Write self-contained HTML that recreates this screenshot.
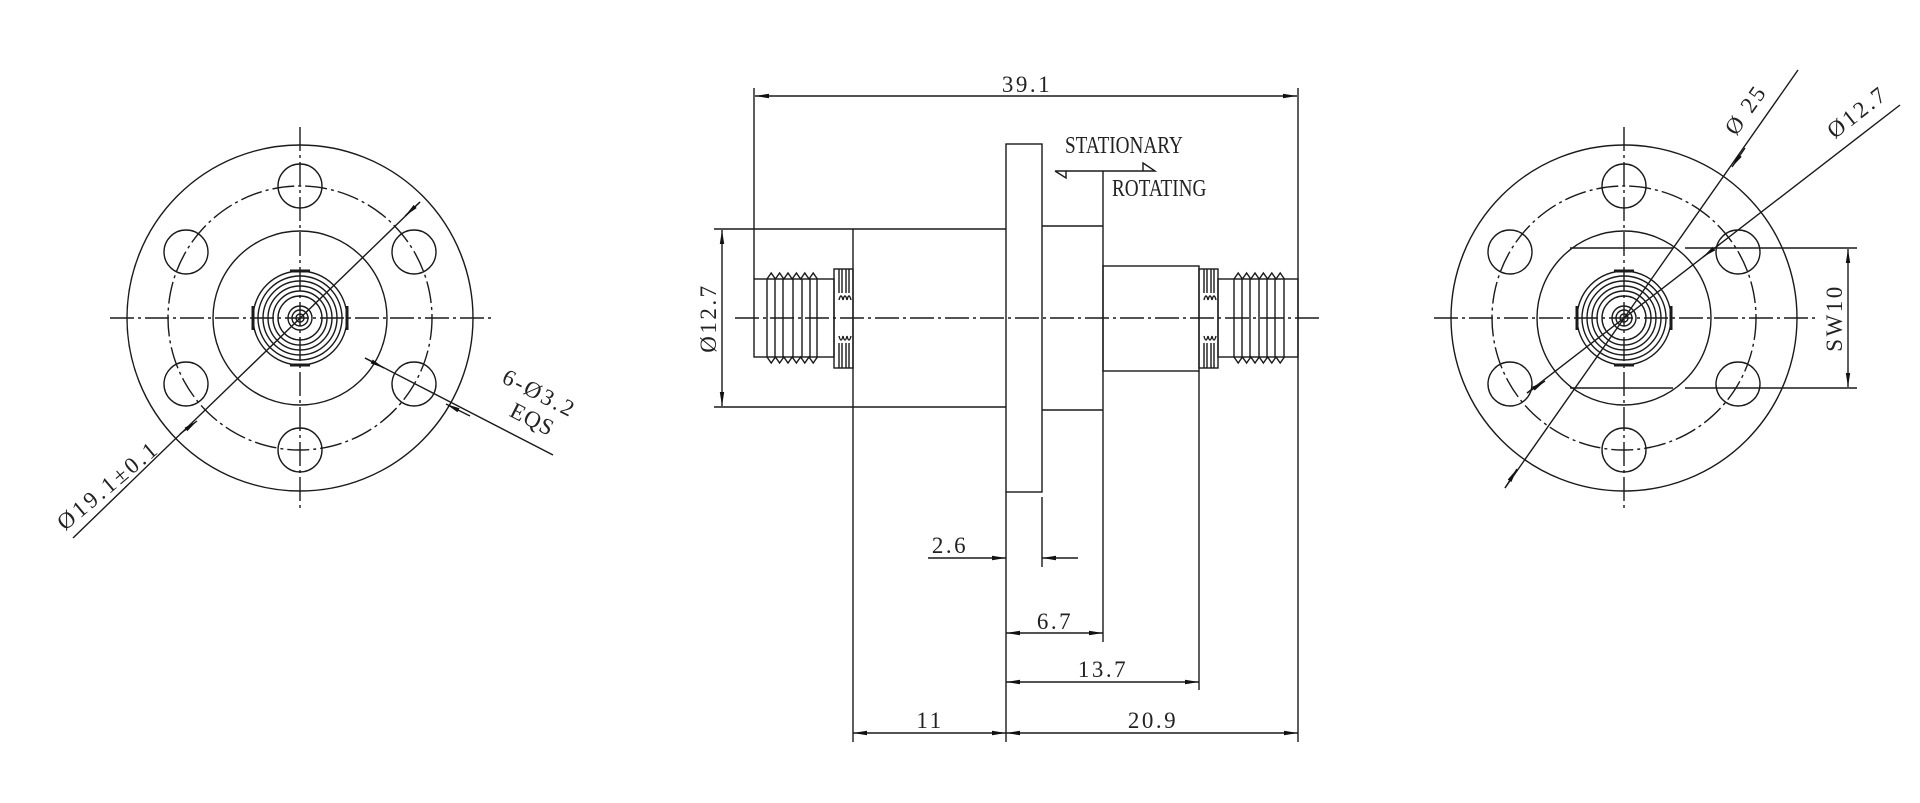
<!DOCTYPE html>
<html><head><meta charset="utf-8"><style>
html,body{margin:0;padding:0;background:#fff;}
svg{display:block;}
text{font-family:"Liberation Serif",serif;fill:#222;}
</style></head><body>
<svg width="1920" height="803" viewBox="0 0 1920 803" xmlns="http://www.w3.org/2000/svg">
<defs>
<marker id="a" viewBox="0 0 14 6" refX="14" refY="3" markerWidth="14" markerHeight="6" markerUnits="userSpaceOnUse" orient="auto-start-reverse"><path d="M0,0.8 L14,3 L0,5.2 Z" fill="#111"/></marker>
<g id="ring">
<circle r="47"/><circle r="42"/><circle r="37"/><circle r="32"/><circle r="27"/><circle r="22"/>
<circle r="12"/><circle r="8"/><circle r="4"/>
<path d="M-47,-12 V12 M47,-12 V12 M-10,-47 H10 M-10,47 H10" stroke-width="3"/>
</g>
<g id="face">
<circle r="173"/>
<circle r="132" stroke-dasharray="22 4 3 4"/>
<circle r="87"/>
<circle cx="0" cy="-132" r="22"/><circle cx="114" cy="-66" r="22"/><circle cx="114" cy="66" r="22"/>
<circle cx="0" cy="132" r="22"/><circle cx="-114" cy="66" r="22"/><circle cx="-114" cy="-66" r="22"/>
<path d="M-190,0 H192 M0,-191 V190" stroke-dasharray="24 4 3 4"/>
<use href="#ring"/>
</g>
</defs>
<g fill="none" stroke="#1a1a1a" stroke-width="1.4">
<!-- left view -->
<use href="#face" x="300" y="318"/>
<line x1="420" y1="202" x2="73" y2="538"/>
<line x1="420" y1="202" x2="405" y2="216" marker-end="url(#a)"/>
<line x1="180" y1="434" x2="197" y2="421" marker-end="url(#a)"/>
<line x1="365" y1="358" x2="553" y2="455"/>
<line x1="365" y1="358" x2="384" y2="368" marker-end="url(#a)"/>
<line x1="470" y1="416" x2="446" y2="404" marker-end="url(#a)"/>
<!-- right view -->
<use href="#face" x="1624" y="318"/>
<line x1="1798" y1="70" x2="1505" y2="488"/>
<line x1="1745" y1="148" x2="1732" y2="167" marker-end="url(#a)"/>
<line x1="1505" y1="488" x2="1517" y2="469" marker-end="url(#a)"/>
<line x1="1900" y1="105" x2="1527" y2="393"/>
<line x1="1720" y1="244" x2="1703" y2="257" marker-end="url(#a)"/>
<line x1="1527" y1="393" x2="1545" y2="381" marker-end="url(#a)"/>
<path d="M1570,248 H1673 M1685,248 H1857 M1570,388 H1673 M1685,388 H1857"/>
<line x1="1848" y1="318" x2="1848" y2="249" marker-end="url(#a)"/>
<line x1="1848" y1="318" x2="1848" y2="387" marker-end="url(#a)"/>
<!-- middle -->
<rect x="1006" y="144" width="36" height="348"/>
<path d="M714,229 H1006 M714,407 H1006 M853,229 V742 M1042,226 H1103 M1042,410 H1103 M1103,171 V642"/>
<rect x="1103" y="266" width="96" height="105"/>
<path d="M1199,371 V690 M1006,492 V742 M1042,497 V567 M754,88 V279 M1298,88 V742"/>
<!-- left thread -->
<rect x="754" y="279" width="80" height="78"/>
<path d="M767,279 l4.2,-6 l4.2,6 l4.2,-6 l4.2,6 l4.2,-6 l4.2,6 l4.2,-6 l4.2,6 l4.2,-6 l4.2,6 l4.2,-6 l4.2,6"/>
<path d="M767,357 l4.2,6 l4.2,-6 l4.2,6 l4.2,-6 l4.2,6 l4.2,-6 l4.2,6 l4.2,-6 l4.2,6 l4.2,-6 l4.2,6 l4.2,-6"/>
<path d="M767,279 V357 M775,279 V357 M783,279 V357 M793,279 V357 M802,279 V357 M810,279 V357 M817,279 V357"/>
<rect x="834" y="269" width="19" height="99"/>
<path d="M839,269 V293 M842,269 V293 M846,269 V293 M849,269 V293 M839,343 V368 M842,343 V368 M846,343 V368 M849,343 V368"/>
<path d="M839,300 q2,-8 4,0 q2,-8 4,0 q2,-8 4,0 M839,336 q2,8 4,0 q2,8 4,0 q2,8 4,0"/>
<!-- right thread -->
<rect x="1218" y="279" width="80" height="78"/>
<path d="M1234,279 l4.2,-6 l4.2,6 l4.2,-6 l4.2,6 l4.2,-6 l4.2,6 l4.2,-6 l4.2,6 l4.2,-6 l4.2,6 l4.2,-6 l4.2,6"/>
<path d="M1234,357 l4.2,6 l4.2,-6 l4.2,6 l4.2,-6 l4.2,6 l4.2,-6 l4.2,6 l4.2,-6 l4.2,6 l4.2,-6 l4.2,6 l4.2,-6"/>
<path d="M1234,279 V357 M1242,279 V357 M1250,279 V357 M1259,279 V357 M1267,279 V357 M1275,279 V357 M1284,279 V357"/>
<rect x="1199" y="269" width="19" height="99"/>
<path d="M1204,269 V293 M1207,269 V293 M1211,269 V293 M1214,269 V293 M1204,343 V368 M1207,343 V368 M1211,343 V368 M1214,343 V368"/>
<path d="M1204,300 q2,-8 4,0 q2,-8 4,0 q2,-8 4,0 M1204,336 q2,8 4,0 q2,8 4,0 q2,8 4,0"/>
<line x1="735" y1="318" x2="1322" y2="318" stroke-dasharray="24 4 3 4"/>
<!-- stationary arrow -->
<path d="M1055,171 H1155 M1055,171 L1066,178 V171 M1143,163 L1155,171 H1143 Z"/>
<!-- dims -->
<line x1="1026" y1="96" x2="755" y2="96" marker-end="url(#a)"/>
<line x1="1026" y1="96" x2="1297" y2="96" marker-end="url(#a)"/>
<line x1="722" y1="318" x2="722" y2="230" marker-end="url(#a)"/>
<line x1="722" y1="318" x2="722" y2="406" marker-end="url(#a)"/>
<line x1="928" y1="558" x2="1006" y2="558" marker-end="url(#a)"/>
<line x1="1078" y1="558" x2="1042" y2="558" marker-end="url(#a)"/>
<line x1="1054" y1="633" x2="1006" y2="633" marker-end="url(#a)"/>
<line x1="1054" y1="633" x2="1103" y2="633" marker-end="url(#a)"/>
<line x1="1102" y1="682" x2="1006" y2="682" marker-end="url(#a)"/>
<line x1="1102" y1="682" x2="1199" y2="682" marker-end="url(#a)"/>
<line x1="930" y1="733" x2="853" y2="733" marker-end="url(#a)"/>
<line x1="930" y1="733" x2="1006" y2="733" marker-end="url(#a)"/>
<line x1="1152" y1="733" x2="1006" y2="733" marker-end="url(#a)"/>
<line x1="1152" y1="733" x2="1298" y2="733" marker-end="url(#a)"/>
</g>
<g font-size="23" letter-spacing="2.5">
<text x="1027" y="92" text-anchor="middle">39.1</text>
<text x="950" y="553" text-anchor="middle">2.6</text>
<text x="1055" y="629" text-anchor="middle">6.7</text>
<text x="1103" y="677" text-anchor="middle">13.7</text>
<text x="930" y="728" text-anchor="middle">11</text>
<text x="1153" y="728" text-anchor="middle">20.9</text>
<text transform="translate(716 318) rotate(-90)" text-anchor="middle">Ø12.7</text>
<text transform="translate(1842 318) rotate(-90)" text-anchor="middle">SW10</text>
<text transform="translate(113 491) rotate(-40)" text-anchor="middle" letter-spacing="3">Ø19.1±0.1</text>
<text transform="translate(536 400) rotate(27)" text-anchor="middle">6-Ø3.2</text>
<text transform="translate(529 426) rotate(27)" text-anchor="middle" letter-spacing="1">EQS</text>
<text transform="translate(1752 114) rotate(-55)" text-anchor="middle">Ø 25</text>
<text transform="translate(1862 118) rotate(-38)" text-anchor="middle">Ø12.7</text>
</g>
<g font-size="24">
<text x="1065" y="153" transform="translate(1065 0) scale(0.8 1) translate(-1065 0)">STATIONARY</text>
<text x="1112" y="196" transform="translate(1112 0) scale(0.8 1) translate(-1112 0)">ROTATING</text>
</g>
</svg>
</body></html>
